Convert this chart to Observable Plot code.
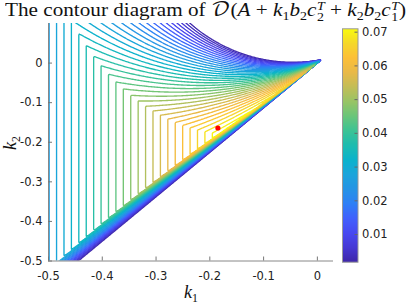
<!DOCTYPE html>
<html>
<head>
<meta charset="utf-8">
<script src="https://cdn.jsdelivr.net/npm/d3@7"></script>
<script src="https://cdn.jsdelivr.net/npm/@observablehq/plot@0.6"></script>
<style>
  html, body { margin: 0; padding: 0; background: #fff; }
  #wrap { position: relative; width: 407px; height: 305px; overflow: hidden; background: #fff; }
  #wrap svg { position: absolute; left: 0; top: 0; }
  #title { position: absolute; left: 5px; top: -2px; white-space: nowrap; font-family: "Liberation Serif", "DejaVu Serif", serif; font-size: 19.5px; line-height: 24px; color: #111; transform-origin: 0 0; }
  .cal { font-family: "DejaVu Math TeX Gyre", "Noto Sans Math", "DejaVu Serif", serif; }
  .ss { display: inline-flex; flex-direction: column; font-size: 0.66em; line-height: 0.9; vertical-align: 0.5em; margin-left: 0.5px; }
  .ss span { font-style: normal; }
  sub { font-size: 0.66em; vertical-align: -0.3em; line-height: 0; }
  .lab { position: absolute; font-family: "Liberation Serif", "DejaVu Serif", serif; font-style: italic; font-size: 18px; line-height: 18px; color: #111; white-space: nowrap; }
  .lab sub { font-style: normal; font-size: 0.66em; }
</style>
</head>
<body>
<div id="wrap">
  <div id="title">The contour diagram of <span class="cal">𝒟</span>(<i>A</i> + <i>k</i><sub>1</sub><i>b</i><sub>2</sub><i>c</i><span class="ss"><i>T</i><span>2</span></span> + <i>k</i><sub>2</sub><i>b</i><sub>2</sub><i>c</i><span class="ss"><i>T</i><span>1</span></span>)</div>
</div>
<script>
// ---- data ----
const xTicks = [-0.5, -0.4, -0.3, -0.2, -0.1, 0];
const yTicks = [-0.5, -0.4, -0.3, -0.2, -0.1, 0];
const colorTicks = [0.01, 0.02, 0.03, 0.04, 0.05, 0.06, 0.07];
const xDomain = [-0.5, 0.03];
const yDomain = [-0.5, 0.1];
const colorDomain = [0.0018, 0.071];
const levels = [0.002,0.004,0.006,0.008,0.010,0.012,0.014,0.016,0.018,0.020,0.022,0.024,0.026,0.028,0.030,0.032,0.034,0.036,0.038,0.040,0.042,0.044,0.046,0.048,0.050,0.052,0.054,0.056,0.058,0.060,0.062,0.064,0.066,0.068,0.070];
const optimum = [[-0.185, -0.164]];
// parula colormap stops
const parula = ["#3e26a8","#4538d4","#4748f1","#4160fd","#2f7ff6","#2593e6","#1ba4db","#0ab2cc","#1dbcb0","#3cc395","#6ac57a","#98c465","#c3bd57","#e9b948","#fdc037","#f5d82a","#f9fb0e"];
// model of the field: tip point, boundary angles and regime coefficients
const tip = [0.0087, 0.0094];
const lowerAngle = 228.5;               // degrees, lower boundary ray from the tip
const upperAngle = [195, -150, 40];     // upper boundary angle as a function of distance from tip
const vertical = [0.0715, 0.145, -0.185]; // vertical-line regime
const fan = [0.079, 0.88, 0.012];        // fan regime
const band = [0.6, 0.4];                 // steep band along lower boundary
const gridPad = 0.04;                    // field is sampled a little beyond the frame, then clipped

function field(k1, k2) {
  const dx = k1 - tip[0], dy = k2 - tip[1];
  const r = Math.hypot(dx, dy) + 1e-9;
  let th = Math.atan2(dy, dx) * 180 / Math.PI;
  if (th < 90) th += 360;
  const thB = upperAngle[0] + upperAngle[1] * r + upperAngle[2] * r * r;
  const tau = (th - thB) / (lowerAngle - thB);
  const gV = vertical[0] + vertical[1] * (k1 - vertical[2]);
  const gF = fan[0] * Math.sign(tau) * Math.pow(Math.abs(tau), fan[1]) * r / (r + fan[2]);
  const psi = (lowerAngle - th) * Math.PI / 180;
  const gB = band[0] * psi / Math.pow(r, band[1]);
  return Math.min(gV, gF, gB);
}

const n = parula.length;
const cDom = d3.range(n).map(i => colorDomain[0] + i * (colorDomain[1] - colorDomain[0]) / (n - 1));
const color = {type: "linear", domain: cDom, range: parula, interpolate: "rgb"};
const fmt = d => d === 0 ? "0" : String(d);

const W = 407, H = 305;
const mL = 48, mR = 74, mT = 23, mB = 44.5;
const fw = W - mL - mR, fh = H - mT - mB;

const main = Plot.plot({
  width: W, height: H,
  marginLeft: mL, marginRight: mR, marginTop: mT, marginBottom: mB,
  style: {fontFamily: "DejaVu Sans", fontSize: "11.5px", color: "#222", background: "transparent"},
  x: {domain: xDomain},
  y: {domain: yDomain},
  color,
  marks: [
    Plot.contour({value: field,
      x1: xDomain[0] - gridPad, x2: xDomain[1] + gridPad, y1: yDomain[0] - gridPad, y2: yDomain[1] + gridPad,
      pixelSize: 1, thresholds: levels, stroke: "value", fill: "none", strokeWidth: 1.35, clip: true}),
    Plot.dot(optimum, {x: d => d[0], y: d => d[1], r: 2.6, fill: "#f00", stroke: "none"}),
    Plot.ruleX([xDomain[0]], {stroke: "#888", strokeWidth: 1}),
    Plot.ruleY([yDomain[0]], {stroke: "#888", strokeWidth: 1}),
    Plot.tickX(xTicks, {x: d => d, insetTop: fh - 4, stroke: "#777"}),
    Plot.tickY(yTicks, {y: d => d, insetRight: fw - 4, stroke: "#777"}),
    Plot.axisX({ticks: xTicks, tickSize: 0, tickPadding: 10.5, tickFormat: fmt, label: null, fontSize: 11.5}),
    Plot.axisY({ticks: yTicks, tickSize: 0, tickPadding: 6, tickFormat: fmt, label: null, fontSize: 11.5})
  ]
});

const cL = 342, cR = 357.5, cT = 28.3, cB = 261.7;
const bar = Plot.plot({
  width: W, height: H,
  marginLeft: cL, marginRight: W - cR, marginTop: cT, marginBottom: H - cB,
  style: {fontFamily: "DejaVu Sans", fontSize: "11.5px", color: "#222", background: "transparent"},
  x: {domain: [0, 1], axis: null},
  y: {domain: colorDomain},
  color,
  marks: [
    Plot.raster({x1: 0, x2: 1, y1: colorDomain[0], y2: colorDomain[1], fill: (x, y) => y, pixelSize: 1, imageRendering: "auto"}),
    Plot.frame({stroke: "#999"}),
    Plot.tickY(colorTicks, {y: d => d, insetLeft: (cR - cL) - 3, stroke: "#666"}),
    Plot.axisY({anchor: "right", ticks: colorTicks, tickSize: 0, tickPadding: 4, tickFormat: d3.format(".2f"), label: null, fontSize: 11.5})
  ]
});

const wrap = document.getElementById("wrap");
const title = document.getElementById("title");
wrap.insertBefore(main, title);
wrap.insertBefore(bar, title);

// x label and y label
const xl = document.createElement("div");
xl.className = "lab";
xl.innerHTML = "k<sub>1</sub>";
xl.style.left = "184px"; xl.style.top = "283px";
wrap.appendChild(xl);
const yl = document.createElement("div");
yl.className = "lab";
yl.innerHTML = "k<sub>2</sub>";
yl.style.left = "3px"; yl.style.top = "134px";
yl.style.transform = "rotate(-90deg)";
yl.style.transformOrigin = "50% 50%";
wrap.appendChild(yl);

// fit title width
const tw = title.getBoundingClientRect().width;
title.style.transform = `scaleX(${401 / tw})`;
</script>
</body>
</html>
